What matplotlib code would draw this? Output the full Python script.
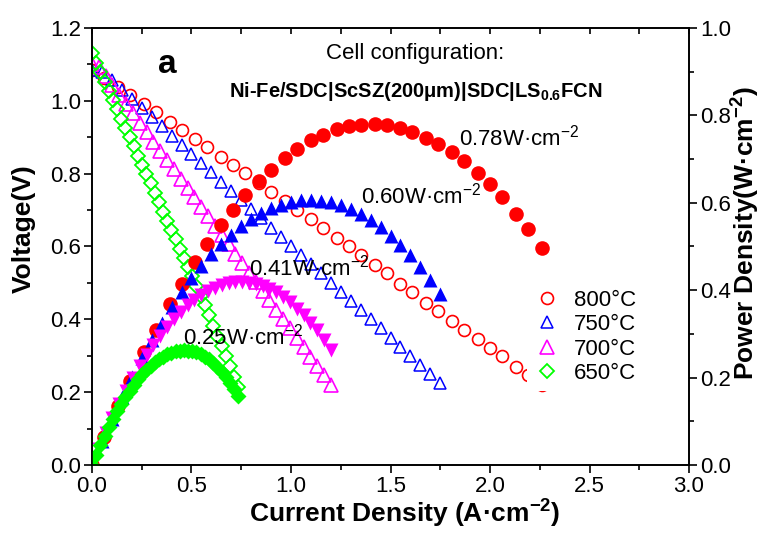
import numpy as np
import matplotlib
matplotlib.use('Agg')
import matplotlib.pyplot as plt
from matplotlib.ticker import MultipleLocator
from matplotlib.lines import Line2D

plt.rcParams['font.family'] = ['Liberation Sans', 'DejaVu Sans']
plt.rcParams['mathtext.fontset'] = 'custom'
plt.rcParams['mathtext.rm'] = 'Liberation Sans'
plt.rcParams['mathtext.bf'] = 'Liberation Sans:bold'

# 800 C
i800 = [0.00, 0.06, 0.13, 0.19, 0.26, 0.32, 0.39, 0.45, 0.52, 0.58, 0.65, 0.71,
        0.77, 0.84, 0.90, 0.97, 1.03, 1.10, 1.16, 1.23, 1.29, 1.35, 1.42, 1.48,
        1.55, 1.61, 1.68, 1.74, 1.81, 1.87, 1.94, 2.00, 2.06, 2.13, 2.19, 2.26]
v800 = [1.085, 1.063, 1.038, 1.016, 0.991, 0.969, 0.943, 0.921, 0.895, 0.872, 0.846, 0.823,
        0.801, 0.774, 0.751, 0.724, 0.701, 0.675, 0.651, 0.624, 0.601, 0.577, 0.550, 0.526,
        0.498, 0.474, 0.446, 0.422, 0.396, 0.372, 0.345, 0.321, 0.298, 0.270, 0.246, 0.220]
p800 = [0.000, 0.064, 0.135, 0.193, 0.258, 0.310, 0.368, 0.414, 0.465, 0.506, 0.550, 0.584,
        0.617, 0.650, 0.676, 0.702, 0.722, 0.743, 0.755, 0.768, 0.775, 0.779, 0.781, 0.778,
        0.772, 0.763, 0.749, 0.734, 0.717, 0.696, 0.669, 0.642, 0.614, 0.575, 0.539, 0.497]

# 750 C
i750 = [0.00, 0.05, 0.10, 0.15, 0.20, 0.25, 0.30, 0.35, 0.40, 0.45, 0.50, 0.55,
        0.60, 0.65, 0.70, 0.75, 0.80, 0.85, 0.90, 0.95, 1.00, 1.05, 1.10, 1.15,
        1.20, 1.25, 1.30, 1.35, 1.40, 1.45, 1.50, 1.55, 1.60, 1.65, 1.70, 1.75]
v750 = [1.085, 1.080, 1.056, 1.030, 1.005, 0.980, 0.955, 0.930, 0.904, 0.879, 0.854, 0.829,
        0.804, 0.778, 0.753, 0.728, 0.703, 0.678, 0.652, 0.627, 0.602, 0.577, 0.552, 0.526,
        0.501, 0.476, 0.451, 0.426, 0.400, 0.375, 0.350, 0.325, 0.300, 0.274, 0.249, 0.224]
p750 = [0.000, 0.054, 0.106, 0.155, 0.201, 0.245, 0.287, 0.326, 0.362, 0.396, 0.427, 0.456,
        0.482, 0.506, 0.527, 0.546, 0.562, 0.576, 0.587, 0.596, 0.602, 0.606, 0.607, 0.605,
        0.601, 0.595, 0.586, 0.575, 0.560, 0.544, 0.525, 0.504, 0.480, 0.452, 0.423, 0.392]

# 700 C
i700 = [0.000, 0.034, 0.069, 0.103, 0.137, 0.171, 0.206, 0.240, 0.274, 0.309, 0.343, 0.377,
        0.411, 0.446, 0.480, 0.514, 0.549, 0.583, 0.617, 0.651, 0.686, 0.720, 0.754, 0.789,
        0.823, 0.857, 0.891, 0.926, 0.960, 0.994, 1.029, 1.063, 1.097, 1.131, 1.166, 1.200]
v700 = [1.100, 1.094, 1.068, 1.043, 1.017, 0.992, 0.966, 0.940, 0.915, 0.888, 0.863, 0.837,
        0.812, 0.786, 0.760, 0.735, 0.708, 0.683, 0.657, 0.632, 0.606, 0.580, 0.555, 0.528,
        0.503, 0.477, 0.452, 0.426, 0.400, 0.375, 0.348, 0.323, 0.297, 0.272, 0.246, 0.220]
p700 = [0.000, 0.037, 0.074, 0.107, 0.139, 0.170, 0.199, 0.226, 0.251, 0.274, 0.296, 0.316,
        0.334, 0.351, 0.365, 0.378, 0.389, 0.398, 0.405, 0.411, 0.416, 0.418, 0.419, 0.417,
        0.414, 0.409, 0.403, 0.395, 0.384, 0.373, 0.358, 0.343, 0.326, 0.308, 0.287, 0.264]

# 650 C
i650 = [0.000, 0.021, 0.042, 0.063, 0.084, 0.105, 0.126, 0.147, 0.168, 0.189, 0.210, 0.231,
        0.252, 0.273, 0.294, 0.315, 0.336, 0.357, 0.378, 0.399, 0.420, 0.441, 0.462, 0.483,
        0.504, 0.525, 0.546, 0.567, 0.588, 0.609, 0.630, 0.651, 0.672, 0.693, 0.714, 0.735]
v650 = [1.130, 1.104, 1.079, 1.053, 1.028, 1.002, 0.977, 0.951, 0.926, 0.900, 0.875, 0.849,
        0.824, 0.798, 0.773, 0.747, 0.722, 0.696, 0.671, 0.645, 0.620, 0.594, 0.569, 0.543,
        0.518, 0.492, 0.465, 0.438, 0.411, 0.383, 0.355, 0.327, 0.299, 0.271, 0.243, 0.215]
p650 = [0.000, 0.023, 0.045, 0.066, 0.086, 0.105, 0.123, 0.140, 0.156, 0.170, 0.184, 0.196,
        0.208, 0.218, 0.227, 0.235, 0.243, 0.248, 0.254, 0.257, 0.260, 0.262, 0.263, 0.262,
        0.261, 0.258, 0.254, 0.248, 0.242, 0.233, 0.224, 0.213, 0.201, 0.188, 0.174, 0.158]

labels = ['800°C', '750°C', '700°C', '650°C']
peaks = ['0.78W·cm$^{-2}$', '0.60W·cm$^{-2}$', '0.41W·cm$^{-2}$', '0.25W·cm$^{-2}$']

fig = plt.figure(figsize=(7.66, 5.34), dpi=100)
ax = fig.add_axes([0.1201, 0.1292, 0.7794, 0.8184])
ax2 = ax.twinx()

ax.plot(i800, v800, 'o', ms=8.6, mfc='none', mec='#ff0000', mew=1.2)
ax.plot(i750, v750, '^', ms=8, mfc='none', mec='#0000ff', mew=1.1)
ax.plot(i700, v700, '^', ms=9.5, mfc='none', mec='#ff00ff', mew=1.2)
ax.plot(i650, v650, 'D', ms=7.5, mfc='none', mec='#00ff00', mew=1.3)

ax2.plot(i800, p800, 'o', ms=10.5, color='#ff0000', mec='none')
ax2.plot(i750, p750, '^', ms=10, color='#0000ff', mec='none')
ax2.plot(i700, p700, 'v', ms=10, color='#ff00ff', mec='none')
ax2.plot(i650, p650, 'D', ms=8, color='#00ff00', mec='none')

ax.set_xlim(0, 3.0)
ax.set_ylim(0, 1.2)
ax2.set_ylim(0, 1.0)

ax.xaxis.set_major_locator(MultipleLocator(0.5))
ax.xaxis.set_minor_locator(MultipleLocator(0.25))
ax.yaxis.set_major_locator(MultipleLocator(0.2))
ax.yaxis.set_minor_locator(MultipleLocator(0.1))
ax2.yaxis.set_major_locator(MultipleLocator(0.2))
ax2.yaxis.set_minor_locator(MultipleLocator(0.1))
ax.xaxis.set_major_formatter('{x:.1f}')
ax.yaxis.set_major_formatter('{x:.1f}')
ax2.yaxis.set_major_formatter('{x:.1f}')

for a in (ax, ax2):
    for s in a.spines.values():
        s.set_linewidth(1.2)
ax.tick_params(axis='both', which='major', direction='out', length=6, width=1.2, labelsize=16, pad=2)
ax.tick_params(axis='both', which='minor', direction='out', length=3.5, width=1.2)
ax2.tick_params(axis='y', which='major', direction='out', length=6, width=1.2, labelsize=16, pad=2)
ax2.tick_params(axis='y', which='minor', direction='out', length=3.5, width=1.2)
ax2.xaxis.set_visible(True)
ax2.tick_params(axis='x', which='both', bottom=False, top=True, labelbottom=False,
                labeltop=False, direction='in', length=4, width=1.2)

ax.set_xlabel('Current Density (A·cm$^{\\mathbf{-2}}$)', fontsize=19, fontweight='bold')
ax.set_ylabel('Voltage(V)', fontsize=19, fontweight='bold')
ax2.set_ylabel('Power Density(W·cm$^{\\mathbf{-2}}$)', fontsize=19, fontweight='bold')
ax.xaxis.set_label_coords(0.524, -0.072)
ax.yaxis.set_label_coords(-0.094, 0.54)
ax2.yaxis.set_label_coords(1.066, 0.53)

ax.text(0.377, 1.10, 'a', fontsize=24, fontweight='bold', ha='center', va='center')
ax.text(1.625, 1.13, 'Cell configuration:', fontsize=16, ha='center', va='center')
ax.text(1.628, 1.025, 'Ni-Fe/SDC|ScSZ(200μm)|SDC|LS$_{\\mathbf{0.6}}$FCN', fontsize=14.5,
        fontweight='bold', ha='center', va='center')
ax.text(1.844, 0.90, peaks[0], fontsize=16, ha='left', va='center')
ax.text(1.352, 0.74, peaks[1], fontsize=16, ha='left', va='center')
ax.text(0.789, 0.542, peaks[2], fontsize=16, ha='left', va='center')
ax.text(0.457, 0.353, peaks[3], fontsize=16, ha='left', va='center')

handles = [
    Line2D([], [], ls='none', marker='o', ms=8.6, mfc='none', mec='#ff0000', mew=1.2),
    Line2D([], [], ls='none', marker='^', ms=8, mfc='none', mec='#0000ff', mew=1.1),
    Line2D([], [], ls='none', marker='^', ms=9.5, mfc='none', mec='#ff00ff', mew=1.2),
    Line2D([], [], ls='none', marker='D', ms=7.5, mfc='none', mec='#00ff00', mew=1.3),
]
leg = ax2.legend(handles, labels, loc='upper left', bbox_to_anchor=(0.729, 0.416),
                 fontsize=16, frameon=True, facecolor='white', edgecolor='none', framealpha=1,
                 fancybox=False, handlelength=1.2, handletextpad=0.6, labelspacing=0.15,
                 borderpad=0.3, borderaxespad=0)

fig.savefig('out.png', dpi=100)
